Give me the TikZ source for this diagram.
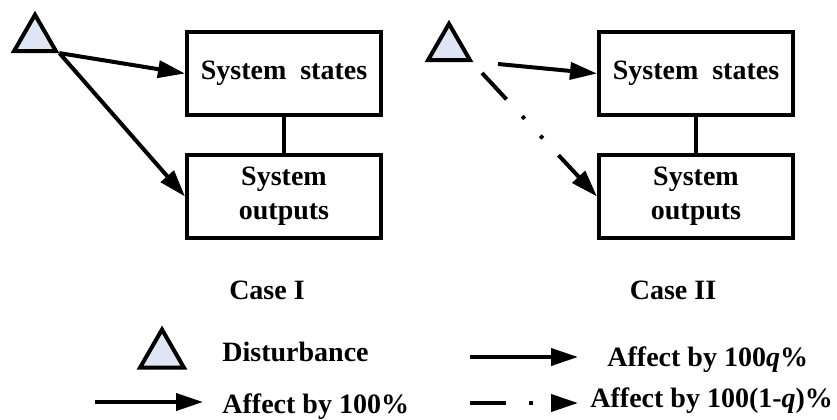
\documentclass[tikz,border=0pt]{standalone}
\usepackage{fontspec}
\setmainfont{Liberation Serif}
\usetikzlibrary{arrows.meta,shapes.geometric}
\definecolor{ink}{HTML}{000000}
\definecolor{paleblue}{HTML}{DFE6F3}

\begin{document}
\begin{tikzpicture}[x=0.5pt,y=-0.5pt,>={Triangle[length=13.5pt,width=8.5pt]},
  font=\bfseries\fontsize{14}{17}\selectfont,
  box/.style={draw=ink,line width=2pt,minimum width=97pt,minimum height=41.5pt,align=center,inner sep=0pt},
  dist/.style={draw=ink,line width=2pt,fill=paleblue,regular polygon,regular polygon sides=3,minimum size=24.2pt,inner sep=0pt},
  lbl/.style={anchor=base west,inner sep=0pt},
  hit/.style={->,ink,line width=2pt},
  part/.style={hit,dash pattern=on 18pt off 11.5pt on 1.8pt off 11.5pt on 1.8pt off 11.5pt}]
  \useasboundingbox (0,0) rectangle (837,419);
  % case I: disturbance hits both
  \node[dist] (distI) at (35,39) {};
  \node[box] (statesI) at (284,73.5) {System~~states};
  \node[box] (outI) at (284,196.5) {System\\outputs};
  \draw[ink,line width=2pt] (statesI) -- (outI);
  \draw[hit] (distI.corner 3) -- (statesI.west);
  \draw[hit] (distI.corner 3) -- (outI.west);
  \node[anchor=base] (caseI) at (267,299) {Case I};
  % case II: split between states and outputs
  \node[dist] (distII) at (449,48) {};
  \node[box] (statesII) at (696,73.5) {System~~states};
  \node[box] (outII) at (696,196.5) {System\\outputs};
  \draw[ink,line width=2pt] (statesII) -- (outII);
  \coordinate (srcq) at (498,64);
  \coordinate (srcp) at (482,73);
  \draw[hit] (srcq) -- (statesII.west);
  \draw[part] (srcp) -- (outII.west);
  \node[anchor=base] (caseII) at (673,299) {Case II};
  % legend
  \node[dist,minimum size=25.4pt] (distkey) at (162,355) {};
  \node[lbl] (distlbl) at (222,361) {Disturbance};
  \coordinate (fullA) at (95,402);
  \coordinate (fullB) at (203,402);
  \draw[hit] (fullA) -- (fullB);
  \node[lbl] (fulllbl) at (222,413) {Affect by 100\%};
  \coordinate (qA) at (470,357);
  \coordinate (qB) at (578,357);
  \draw[hit] (qA) -- (qB);
  \node[lbl] (qlbl) at (607,366) {Affect by 100\textit{q}\%};
  \coordinate (pA) at (470,403);
  \coordinate (pB) at (578,403);
  \draw[part] (pA) -- (pB);
  \node[lbl] (plbl) at (590,407) {Affect by 100(1-\textit{q})\%};
\end{tikzpicture}
\end{document}
